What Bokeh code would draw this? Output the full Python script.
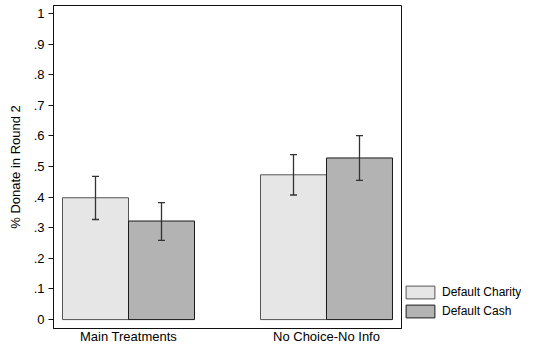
from bokeh.plotting import figure
from bokeh.layouts import row
from bokeh.models import (ColumnDataSource, Range1d, FixedTicker, Whisker, TeeHead,
                          Legend, LegendItem)
from bokeh.embed import file_html
from bokeh.resources import INLINE

# ---- data ----
categories = ["Main Treatments", "No Choice-No Info"]
series_names = ["Default Charity", "Default Cash"]
charity_mean = [0.398, 0.473]
charity_lo = [0.327, 0.407]
charity_hi = [0.468, 0.539]
cash_mean = [0.322, 0.528]
cash_lo = [0.259, 0.455]
cash_hi = [0.382, 0.601]
y_ticks = [0, 0.1, 0.2, 0.3, 0.4, 0.5, 0.6, 0.7, 0.8, 0.9, 1]
y_tick_labels = ["0", ".1", ".2", ".3", ".4", ".5", ".6", ".7", ".8", ".9", "1"]

FONT = "Liberation Sans"
BAR_W = 1 / 3
FILLS = ["#e6e6e6", "#b3b3b3"]
EDGES = ["#555555", "#1a1a1a"]
H = 346
group_pos = [i + 1 for i in range(len(categories))]

p = figure(width=402, height=H, output_backend="svg", toolbar_location=None,
           x_range=Range1d(0.6212, 2.3788), y_range=Range1d(-0.0291, 1.026),
           min_border_left=53, min_border_right=1, min_border_top=5,
           min_border_bottom=17)
p.background_fill_color = "white"
p.border_fill_color = "white"
p.outline_line_color = "#111111"
p.outline_line_width = 1
p.xgrid.visible = False
p.ygrid.visible = False

src_ch = ColumnDataSource(dict(x=[g - BAR_W / 2 for g in group_pos], top=charity_mean,
                               lo=charity_lo, hi=charity_hi))
src_ca = ColumnDataSource(dict(x=[g + BAR_W / 2 for g in group_pos], top=cash_mean,
                               lo=cash_lo, hi=cash_hi))
sources = [src_ch, src_ca]

for src, fc, lc in zip(sources, FILLS, EDGES):
    p.vbar(x="x", top="top", bottom=0, width=BAR_W, source=src,
           fill_color=fc, line_color=lc, line_width=1)

for src in sources:
    w = Whisker(base="x", upper="hi", lower="lo", source=src, level="annotation",
                line_color="#333333", line_width=1.3,
                upper_head=TeeHead(size=7, line_color="#333333", line_width=1.3),
                lower_head=TeeHead(size=7, line_color="#333333", line_width=1.3))
    p.add_layout(w)

# axes
p.xaxis.ticker = FixedTicker(ticks=group_pos)
p.xaxis.major_label_overrides = {g: c for g, c in zip(group_pos, categories)}
p.xaxis.major_tick_line_color = None
p.xaxis.minor_tick_line_color = None
p.xaxis.axis_line_color = "#111111"
p.xaxis.major_label_standoff = -6
p.xaxis.major_label_text_font = FONT
p.xaxis.major_label_text_font_size = "13px"
p.xaxis.major_label_text_color = "black"

p.yaxis.ticker = FixedTicker(ticks=y_ticks)
p.yaxis.major_label_overrides = {t: l for t, l in zip(y_ticks, y_tick_labels)}
p.yaxis.minor_tick_line_color = None
p.yaxis.major_tick_out = 5
p.yaxis.major_tick_in = 0
p.yaxis.major_tick_line_color = "#111111"
p.yaxis.axis_line_color = "#111111"
p.yaxis.major_label_standoff = 4
p.yaxis.major_label_text_font = FONT
p.yaxis.major_label_text_font_size = "13px"
p.yaxis.major_label_text_color = "black"
p.yaxis.axis_label = "% Donate in Round 2"
p.yaxis.axis_label_text_font = FONT
p.yaxis.axis_label_text_font_size = "13px"
p.yaxis.axis_label_text_font_style = "normal"
p.yaxis.axis_label_text_color = "black"
p.yaxis.axis_label_standoff = 8

# legend panel (separate figure to the right)
pl = figure(width=119, height=H, output_backend="svg", toolbar_location=None,
            x_range=Range1d(0, 1), y_range=Range1d(0, 1),
            x_axis_location=None, y_axis_location=None,
            min_border=0, min_border_left=0, min_border_right=0,
            min_border_top=0, min_border_bottom=0)
pl.grid.visible = False
pl.outline_line_color = None
pl.background_fill_color = "white"
pl.border_fill_color = "white"
items = []
for name, src, fc, lc in zip(series_names, sources, FILLS, EDGES):
    rr = pl.vbar(x="x", top="top", bottom=0, width=0.1, source=src,
                 fill_color=fc, line_color=lc, line_width=1, visible=False)
    items.append(LegendItem(label=name, renderers=[rr], index=0))

legend = Legend(items=items, location=(0, 9), padding=0, margin=0, spacing=3,
                glyph_width=36, glyph_height=16, label_height=16,
                label_standoff=4, label_text_font=FONT,
                label_text_font_size="12px", label_text_color="black",
                border_line_color=None, background_fill_alpha=0,
                inactive_fill_alpha=0)
pl.add_layout(legend)

layout = row(p, pl, spacing=0)
open("out.html", "w").write(file_html(layout, INLINE))
